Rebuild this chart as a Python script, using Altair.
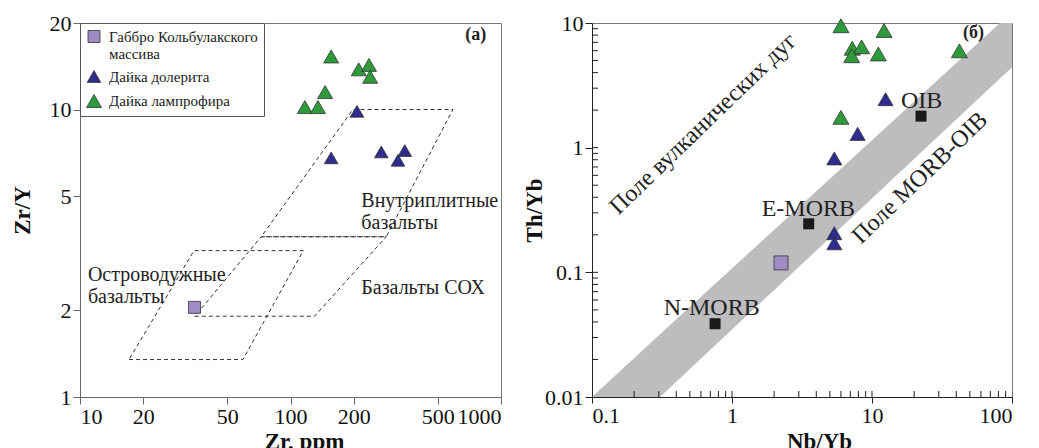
import altair as alt
import pandas as pd

FONT = "Liberation Serif"

# ---------------- common groups ----------------
groups = ["Габбро Кольбулакского массива", "Дайка долерита", "Дайка лампрофира"]
group_colors = ["#a18bc4", "#2f2b8f", "#2e9a3c"]
group_shapes = ["square", "triangle-up", "triangle-up"]

# ---------------- panel (a): Zr/Y vs Zr ----------------
gabbro_zr = [35]
gabbro_zry = [2.05]
dolerite_zr = [207, 156, 270, 324, 349]
dolerite_zry = [9.86, 6.79, 7.12, 6.66, 7.2]
lamp_zr = [156, 211, 236, 239, 146, 117, 135]
lamp_zry = [15.3, 13.8, 14.3, 13.0, 11.5, 10.2, 10.2]

# dashed field outlines (closed polygons)
iab_zr = [17.1, 59.4, 115, 34.8, 17.1]
iab_zry = [1.35, 1.35, 3.23, 3.23, 1.35]
wpb_zr = [72.6, 285, 591, 198, 72.6]
wpb_zry = [3.61, 3.61, 10, 10, 3.61]
morb_zr = [35.1, 130, 285, 72.6, 35.1]
morb_zry = [1.91, 1.91, 3.61, 3.61, 1.91]

region_text = ["Внутриплитные", "базальты", "Базальты СОХ", "Островодужные", "базальты"]
region_zr = [217, 217, 217, 10.9, 10.9]
region_zry = [4.8, 4.04, 2.40, 2.65, 2.23]

xa_ticks = [10, 20, 50, 100, 200, 500, 1000]
ya_ticks = [1, 2, 5, 10, 20]

# ---------------- panel (б): Th/Yb vs Nb/Yb ----------------
gabbro_nb = [2.24]
gabbro_th = [0.119]
dolerite_nb = [12.5, 7.9, 5.38, 5.38, 5.38]
dolerite_th = [2.45, 1.29, 0.82, 0.206, 0.171]
lamp_nb = [6.0, 12.2, 7.23, 8.43, 7.16, 11.1, 42.1, 6.0]
lamp_th = [9.5, 8.7, 6.27, 6.44, 5.46, 5.64, 5.98, 1.75]

ref_names = ["N-MORB", "E-MORB", "OIB"]
ref_nb = [0.757, 3.53, 22.4]
ref_th = [0.0387, 0.245, 1.79]
ref_label_nb = [0.716, 3.51, 22.6]
ref_label_th = [0.0517, 0.323, 2.38]

band_nb = [0.1, 0.306, 82, 100]
band_lo = [0.01, 0.01, 3.58, 4.4]
band_hi = [0.01, 0.0318, 10, 10]

field_b_text = ["Поле вулканических дуг", "Поле MORB-OIB"]
field_b_nb = [0.624, 22]
field_b_th = [1.55, 0.57]

xb_major = [0.1, 1, 10, 100]
yb_major = [0.01, 0.1, 1, 10]
xb_inner = [0.2, 0.3, 0.4, 0.5, 0.6, 0.7, 0.8, 0.9, 1,
            2, 3, 4, 5, 6, 7, 8, 9, 10,
            20, 30, 40, 50, 60, 70, 80, 90]
yb_inner = [0.02, 0.03, 0.04, 0.05, 0.06, 0.07, 0.08, 0.09, 0.1,
            0.2, 0.3, 0.4, 0.5, 0.6, 0.7, 0.8, 0.9, 1,
            2, 3, 4, 5, 6, 7, 8, 9]

# ---------------- tables ----------------
pts_a = pd.DataFrame({
    "group": [groups[0]] * len(gabbro_zr) + [groups[1]] * len(dolerite_zr) + [groups[2]] * len(lamp_zr),
    "zr": gabbro_zr + dolerite_zr + lamp_zr,
    "zry": gabbro_zry + dolerite_zry + lamp_zry,
})
fields_a = pd.DataFrame({
    "field": ["iab"] * 5 + ["wpb"] * 5 + ["morb"] * 5,
    "ord": list(range(5)) * 3,
    "zr": iab_zr + wpb_zr + morb_zr,
    "zry": iab_zry + wpb_zry + morb_zry,
})
regions_a = pd.DataFrame({"text": region_text, "zr": region_zr, "zry": region_zry})

pts_b = pd.DataFrame({
    "group": [groups[0]] * len(gabbro_nb) + [groups[1]] * len(dolerite_nb) + [groups[2]] * len(lamp_nb),
    "nb": gabbro_nb + dolerite_nb + lamp_nb,
    "th": gabbro_th + dolerite_th + lamp_th,
})
refs_b = pd.DataFrame({"name": ref_names, "nb": ref_nb, "th": ref_th,
                       "lnb": ref_label_nb, "lth": ref_label_th})
band_b = pd.DataFrame({"nb": band_nb, "lo": band_lo, "hi": band_hi})
xin_b = pd.DataFrame({"v": xb_inner})
yin_b = pd.DataFrame({"v": yb_inner})

# ---------------- scales ----------------
W, H = 421, 374
WB = 420
xa = alt.Scale(type="log", domain=[10, 1000], nice=False)
ya = alt.Scale(type="log", domain=[1, 20], nice=False)
xb = alt.Scale(type="log", domain=[0.1, 100], nice=False)
yb = alt.Scale(type="log", domain=[0.01, 10], nice=False)
color_scale = alt.Scale(domain=groups, range=group_colors)
shape_scale = alt.Scale(domain=groups, range=group_shapes)

axis_common = dict(labelFont=FONT, labelFontSize=22, labelColor="#111",
                   titleFont=FONT, titleFontSize=23, titleFontWeight="bold", titleColor="#111",
                   grid=False, format="~g", labelPadding=2)

axis_xa = alt.Axis(values=xa_ticks, tickSize=7, domainColor="#6a6a6a", tickColor="#6a6a6a",
                   titleX=224, titleY=33, titleBaseline="top", **axis_common)
axis_ya = alt.Axis(values=ya_ticks, tickSize=7, domainColor="#6a6a6a", tickColor="#6a6a6a",
                   titlePadding=15, **axis_common)
axis_xb = alt.Axis(values=xb_major, tickSize=6, domainColor="#222", tickColor="#222",
                   titleX=227, titleY=33, titleBaseline="top", **axis_common)
axis_yb = alt.Axis(values=yb_major, tickSize=7, domainColor="#222", tickColor="#222",
                   titlePadding=-2, **axis_common)

legend = alt.Legend(
    title=None, orient="top-left", offset=0, padding=6,
    fillColor="white", strokeColor="#555",
    labelFont=FONT, labelFontSize=15, labelColor="#222", labelLimit=300, labelOffset=7,
    symbolSize=220, symbolStrokeColor="#333", symbolStrokeWidth=0.8,
    rowPadding=7,
    labelExpr="datum.value == 'Габбро Кольбулакского массива' ? ['Габбро Кольбулакского', 'массива'] : datum.label",
)

# ---------------- panel (a) ----------------
a_fields = alt.Chart(fields_a).mark_line(strokeDash=[4, 3], color="#333", strokeWidth=1).encode(
    x=alt.X("zr:Q", scale=xa, axis=axis_xa, title="Zr, ppm"),
    y=alt.Y("zry:Q", scale=ya, axis=axis_ya, title="Zr/Y"),
    detail="field:N",
    order="ord:Q",
)
a_pts = alt.Chart(pts_a).mark_point(filled=True, opacity=1, stroke="#333", strokeWidth=0.8).encode(
    x=alt.X("zr:Q", scale=xa, title="Zr, ppm"),
    y=alt.Y("zry:Q", scale=ya, title="Zr/Y"),
    color=alt.Color("group:N", scale=color_scale, legend=legend),
    shape=alt.Shape("group:N", scale=shape_scale, legend=legend),
    size=alt.Size("group:N", scale=alt.Scale(domain=groups, range=[144, 225, 225]), legend=None),
)
a_regions = alt.Chart(regions_a).mark_text(align="left", baseline="middle", font=FONT,
                                           fontSize=20, color="#222").encode(
    x=alt.X("zr:Q", scale=xa, title="Zr, ppm"),
    y=alt.Y("zry:Q", scale=ya, title="Zr/Y"),
    text="text:N",
)
a_tag = alt.Chart(pd.DataFrame({"t": ["(a)"], "zr": [759], "zry": [18.2]})).mark_text(
    font=FONT, fontSize=18, fontWeight="bold", color="#222").encode(
    x=alt.X("zr:Q", scale=xa, title="Zr, ppm"),
    y=alt.Y("zry:Q", scale=ya, title="Zr/Y"),
    text="t:N",
)
panel_a = alt.layer(a_fields, a_regions, a_pts, a_tag).properties(width=W, height=H)

# ---------------- panel (б) ----------------
b_band = alt.Chart(band_b).mark_area(color="#bdbdbf", opacity=1).encode(
    x=alt.X("nb:Q", scale=xb, axis=axis_xb, title="Nb/Yb"),
    y=alt.Y("lo:Q", scale=yb, axis=axis_yb, title="Th/Yb"),
    y2="hi:Q",
)
b_xin = alt.Chart(xin_b).mark_rule(color="#222", strokeWidth=1).encode(
    x=alt.X("v:Q", scale=xb, title="Nb/Yb"),
    y=alt.value(H),
    y2=alt.value(H - 6),
)
b_yin = alt.Chart(yin_b).mark_rule(color="#222", strokeWidth=1).encode(
    y=alt.Y("v:Q", scale=yb, title="Th/Yb"),
    x=alt.value(0),
    x2=alt.value(6),
)
b_pts = alt.Chart(pts_b).mark_point(filled=True, opacity=1, stroke="#333", strokeWidth=0.8).encode(
    x=alt.X("nb:Q", scale=xb, title="Nb/Yb"),
    y=alt.Y("th:Q", scale=yb, title="Th/Yb"),
    color=alt.Color("group:N", scale=color_scale, legend=None),
    shape=alt.Shape("group:N", scale=shape_scale, legend=None),
    size=alt.Size("group:N", scale=alt.Scale(domain=groups, range=[196, 256, 256]), legend=None),
)
b_refs = alt.Chart(refs_b).mark_point(shape="square", filled=True, opacity=1, size=121,
                                      color="#1a1a1a").encode(
    x=alt.X("nb:Q", scale=xb, title="Nb/Yb"),
    y=alt.Y("th:Q", scale=yb, title="Th/Yb"),
)
b_ref_text = alt.Chart(refs_b).mark_text(font=FONT, fontSize=24, color="#222").encode(
    x=alt.X("lnb:Q", scale=xb, title="Nb/Yb"),
    y=alt.Y("lth:Q", scale=yb, title="Th/Yb"),
    text="name:N",
)
b_field_text = alt.Chart(pd.DataFrame({"t": field_b_text, "nb": field_b_nb, "th": field_b_th})).mark_text(
    font=FONT, fontSize=24, color="#222", angle=316).encode(
    x=alt.X("nb:Q", scale=xb, title="Nb/Yb"),
    y=alt.Y("th:Q", scale=yb, title="Th/Yb"),
    text="t:N",
)
b_tag = alt.Chart(pd.DataFrame({"t": ["(б)"], "nb": [53], "th": [8.26]})).mark_text(
    font=FONT, fontSize=18, fontWeight="bold", color="#222").encode(
    x=alt.X("nb:Q", scale=xb, title="Nb/Yb"),
    y=alt.Y("th:Q", scale=yb, title="Th/Yb"),
    text="t:N",
)
panel_b = alt.layer(b_band, b_xin, b_yin, b_field_text, b_ref_text, b_refs, b_pts, b_tag).properties(
    width=WB, height=H)

chart = alt.hconcat(panel_a, panel_b, spacing=21).resolve_scale(
    color="independent", shape="independent", size="independent"
).properties(
    padding={"left": 2, "top": 3, "right": 2, "bottom": 0},
    background="white",
).configure_view(stroke="#777", strokeWidth=1).configure_legend(
    labelFont=FONT, labelFontSize=15
).configure_text(font=FONT)

chart.save("out.html", embed_options={"renderer": "svg", "actions": False})
